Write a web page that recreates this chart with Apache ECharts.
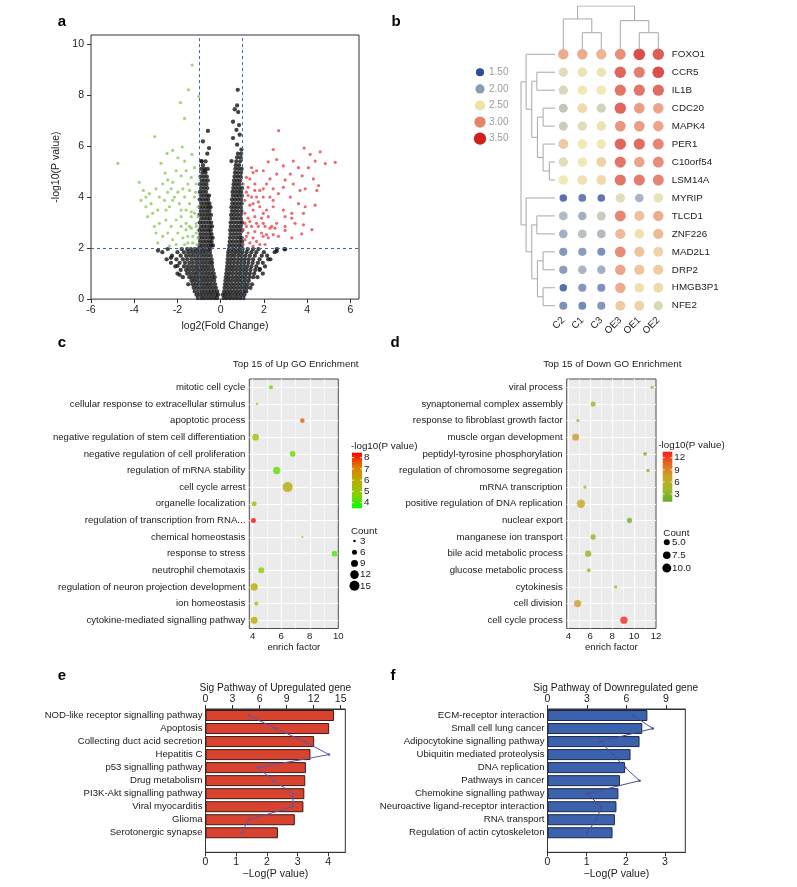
<!DOCTYPE html>
<html><head><meta charset="utf-8">
<script src="https://cdn.jsdelivr.net/npm/echarts@6/dist/echarts.min.js"></script>
<style>html,body{margin:0;padding:0;background:#fff}#c{position:absolute;left:0;top:0;width:797px;height:887px}#va{position:absolute;left:0;top:0;width:385px;height:337px;background:#fff;z-index:5}</style>
</head><body><div id="c"></div><div id="va"></div><script>
const FONT = '"Liberation Sans", Arial, Helvetica, sans-serif';

// ---------- a: volcano ----------
const volcanoGreen = [[-1.32,9.17],[-1.49,8.2],[-1.02,7.94],[-1.86,7.7],[-1.67,7.08],[-3.05,6.37],[-4.76,5.32],[-1.78,5.96],[-2.48,5.71],[-2.22,5.83],[-2.76,5.32],[-1.98,5.54],[-1.67,5.41],[-1.33,5.67],[-3.77,4.58],[-3.58,4.26],[-3.46,4.0],[-3.69,3.87],[-3.22,3.74],[-2.99,4.32],[-2.68,4.51],[-2.45,4.67],[-2.29,4.32],[-2.06,5.03],[-1.83,4.83],[-1.6,5.03],[-1.36,4.77],[-1.21,5.15],[-1.13,4.51],[-3.46,3.62],[-3.15,3.36],[-3.38,3.23],[-2.91,3.49],[-2.6,3.87],[-2.37,3.62],[-2.14,4.0],[-1.91,3.74],[-1.67,4.0],[-1.44,3.74],[-1.21,4.0],[-1.05,3.62],[-3.07,2.85],[-2.84,2.97],[-2.53,3.1],[-2.29,2.85],[-2.06,3.1],[-1.83,3.23],[-1.6,2.97],[-1.36,3.23],[-1.13,2.97],[-2.99,2.59],[-2.68,2.46],[-2.45,2.59],[-2.22,2.33],[-1.98,2.59],[-1.75,2.4],[-1.52,2.2],[-1.29,2.46],[-1.1,2.14],[-2.91,2.2],[-1.6,2.72],[-1.36,2.78],[-1.13,2.59],[-1.83,2.85],[-2.53,3.49],[-2.22,3.87],[-1.44,4.26],[-1.16,4.19],[-1.52,4.51],[-1.75,4.32],[-1.98,4.19],[-2.84,4.0],[-3.3,4.13],[-2.45,4.19],[-1.6,3.49],[-1.36,3.42],[-1.21,3.36],[-1.83,3.49],[-1.05,3.23],[-1.52,2.46],[-1.29,2.2],[-1.67,2.14],[-2.06,2.14],[-2.37,2.08],[-1.05,2.4],[-1.13,2.85],[-1.44,2.85],[-2.57,4.94],[-2.22,4.58]];
const volcanoRed = [[2.68,6.6],[3.86,5.92],[2.43,5.86],[4.6,5.77],[4.14,5.67],[5.3,5.36],[4.37,5.41],[3.36,5.41],[2.2,5.38],[2.59,5.47],[1.43,5.15],[1.5,4.96],[1.35,4.71],[1.19,4.77],[1.66,5.03],[1.97,5.03],[2.9,5.22],[3.6,5.15],[4.06,5.15],[3.22,4.9],[3.77,4.83],[2.59,4.9],[2.28,4.71],[4.29,4.71],[4.53,4.45],[4.45,4.26],[1.04,4.51],[1.27,4.38],[1.58,4.51],[1.81,4.26],[2.12,4.51],[2.43,4.32],[2.9,4.38],[3.36,4.51],[3.91,4.32],[3.67,4.26],[1.66,4.0],[1.97,4.0],[2.28,4.0],[2.43,3.87],[2.67,4.13],[3.22,4.0],[3.6,3.74],[4.37,3.68],[3.91,3.62],[1.12,3.87],[1.35,3.68],[1.5,3.49],[1.81,3.62],[2.12,3.49],[2.43,3.62],[2.9,3.49],[3.29,3.36],[3.83,3.36],[3.29,3.17],[2.98,3.23],[1.12,3.36],[1.27,3.17],[1.58,3.23],[1.89,3.17],[2.2,3.23],[2.59,2.97],[2.98,2.85],[3.44,2.97],[3.83,2.91],[4.22,2.72],[3.75,2.56],[3.29,2.4],[2.98,2.69],[1.12,2.97],[1.43,2.85],[1.74,2.85],[2.05,2.85],[2.36,2.85],[1.04,2.72],[1.27,2.59],[1.58,2.65],[1.89,2.59],[2.12,2.53],[2.43,2.53],[2.67,2.46],[1.12,2.33],[1.35,2.2],[1.66,2.26],[1.97,2.46],[2.2,2.4],[1.04,2.14],[1.5,2.08],[1.81,2.14],[2.05,2.14],[1.19,2.46],[1.5,2.4],[1.19,2.85],[1.43,4.0],[1.27,4.06],[1.58,4.26],[1.97,4.32],[1.19,4.19],[1.5,3.74],[1.74,3.81],[1.97,3.36],[1.66,2.97],[1.97,2.97],[1.35,3.04],[2.28,2.78],[2.51,2.78],[4.84,5.31],[2.98,4.67]];
// rows: [y, x1, x2, ...] read from the dense black V
const volcanoBlackRows = [
[0.04,-1.05,-0.9,-0.76,-0.6,-0.45,-0.3,-0.17,0.14,0.28,0.43,0.58,0.74,0.9,1.05],
[0.17,-1.12,-0.97,-0.82,-0.67,-0.52,-0.38,-0.22,-0.12,0.1,0.22,0.36,0.5,0.66,0.8,0.95,1.1],
[0.3,-1.2,-1.03,-0.88,-0.73,-0.58,-0.44,-0.3,-0.16,0.16,0.3,0.44,0.6,0.75,0.9,1.05,1.18],
[0.44,-1.25,-1.1,-0.95,-0.8,-0.65,-0.5,-0.36,-0.22,0.18,0.33,0.48,0.63,0.78,0.93,1.08,1.22,1.38],
[0.58,-1.5,-1.3,-1.15,-1.0,-0.85,-0.7,-0.56,-0.42,-0.26,0.2,0.34,0.49,0.64,0.8,0.95,1.1,1.25,1.45],
[0.72,-1.35,-1.2,-1.05,-0.9,-0.75,-0.6,-0.45,-0.3,0.22,0.37,0.52,0.68,0.83,0.98,1.13,1.3],
[0.86,-1.75,-1.45,-1.3,-1.15,-1.0,-0.85,-0.7,-0.55,-0.4,-0.28,0.24,0.38,0.54,0.7,0.85,1.0,1.15,1.32,1.5,1.7],
[1.0,-2.0,-1.55,-1.38,-1.22,-1.07,-0.92,-0.77,-0.62,-0.47,-0.32,0.26,0.4,0.56,0.72,0.88,1.03,1.18,1.35,1.55,1.95],
[1.14,-1.85,-1.6,-1.45,-1.28,-1.12,-0.97,-0.82,-0.67,-0.52,-0.36,0.28,0.43,0.58,0.74,0.9,1.05,1.2,1.38,1.6,1.8],
[1.28,-2.1,-1.7,-1.52,-1.35,-1.18,-1.02,-0.87,-0.72,-0.57,-0.4,0.3,0.45,0.6,0.76,0.92,1.07,1.23,1.42,1.65,2.05],
[1.42,-2.3,-1.9,-1.65,-1.45,-1.28,-1.1,-0.95,-0.8,-0.65,-0.5,-0.4,0.31,0.46,0.62,0.78,0.94,1.1,1.28,1.48,1.72,1.95],
[1.56,-2.5,-2.05,-1.75,-1.55,-1.35,-1.18,-1.02,-0.87,-0.72,-0.57,-0.42,0.33,0.48,0.63,0.8,0.96,1.12,1.3,1.5,1.8,2.3],
[1.7,-2.25,-1.85,-1.6,-1.42,-1.25,-1.08,-0.92,-0.77,-0.62,-0.46,0.34,0.5,0.65,0.82,0.98,1.15,1.35,1.58,1.9,2.15],
[1.84,-2.7,-2.0,-1.7,-1.5,-1.32,-1.15,-0.98,-0.82,-0.67,-0.5,0.35,0.52,0.68,0.84,1.0,1.2,1.42,1.65,2.0,2.5],
[1.96,-2.45,-1.8,-1.55,-1.38,-1.2,-1.05,-0.9,-0.75,-0.6,-0.48,0.38,0.54,0.7,0.86,1.02,1.25,1.5,1.75,2.6,2.95],
[2.1,-0.98,-0.85,-0.7,-0.56,-0.44,-0.36,0.4,0.55,0.7,0.85,0.98],
[2.25,-0.95,-0.8,-0.66,-0.52,-0.42,0.42,0.57,0.72,0.87,0.99],
[2.4,-0.99,-0.86,-0.72,-0.58,-0.45,-0.37,0.43,0.58,0.73,0.88,0.97],
[2.55,-0.94,-0.8,-0.66,-0.52,-0.42,0.45,0.6,0.75,0.9],
[2.7,-0.98,-0.84,-0.7,-0.56,-0.46,0.44,0.58,0.72,0.86,0.99],
[2.85,-0.92,-0.78,-0.64,-0.5,-0.4,0.47,0.62,0.77,0.92],
[3.0,-0.97,-0.83,-0.69,-0.55,-0.44,0.46,0.6,0.74,0.88,0.99],
[3.15,-0.9,-0.76,-0.62,-0.5,0.5,0.64,0.79,0.94],
[3.3,-0.98,-0.84,-0.7,-0.57,-0.45,0.48,0.62,0.77,0.92],
[3.45,-0.92,-0.78,-0.64,-0.52,0.52,0.66,0.8,0.96],
[3.6,-0.96,-0.82,-0.68,-0.56,-0.47,0.5,0.64,0.78,0.93],
[3.75,-0.9,-0.76,-0.62,-0.52,0.54,0.68,0.83,0.97],
[3.9,-0.97,-0.84,-0.7,-0.58,0.52,0.66,0.8,0.94],
[4.05,-0.92,-0.78,-0.64,-0.54,0.56,0.7,0.84,0.98],
[4.2,-0.96,-0.82,-0.68,0.55,0.69,0.83,0.95],
[4.35,-0.9,-0.76,-0.62,0.58,0.72,0.86,0.99],
[4.5,-0.95,-0.8,-0.66,0.6,0.74,0.88],
[4.65,-0.88,-0.74,-0.6,0.62,0.76,0.9],
[4.8,-0.93,-0.78,-0.64,0.64,0.78,0.92],
[4.95,-0.85,-0.7,0.66,0.8,0.95],
[5.1,-0.9,-0.75,-0.6,0.68,0.83,0.97],
[5.25,-0.82,0.7,0.85],
[5.4,-0.88,-0.7,0.72,0.9],
[5.55,0.76,0.92],
[5.7,-0.62,0.8,0.95]
];
const volcanoBlackSparse = [[-0.59,6.59],[-0.82,6.18],[-0.54,5.92],[-0.9,5.41],[-0.74,5.03],[0.79,8.2],[0.76,7.59],[0.65,7.44],[0.81,7.33],[0.57,6.95],[0.85,6.82],[0.73,6.63],[0.88,6.44],[0.57,6.31],[0.76,6.05],[0.96,5.86],[0.5,5.41],[2.59,1.88],[2.98,1.95],[2.2,1.56],[1.81,1.18],[-2.9,1.9],[-2.3,1.62],[-2.0,1.3],[-1.9,0.95]];
const volcanoCutoffsX = [-1, 1];
const volcanoCutoffY = 2;

// ---------- b: dot heatmap ----------
const heatGenes = ['FOXO1','CCR5','IL1B','CDC20','MAPK4','PER1','C10orf54','LSM14A','MYRIP','TLCD1','ZNF226','MAD2L1','DRP2','HMGB3P1','NFE2'];
const heatSamples = ['C2','C1','C3','OE3','OE1','OE2'];
const heatValues = [
[2.9,2.9,2.85,3.1,3.5,3.4],
[2.4,2.45,2.45,3.35,3.2,3.5],
[2.35,2.5,2.5,3.25,3.25,3.3],
[2.2,2.6,2.3,3.35,3.0,2.95],
[2.25,2.4,2.45,3.05,3.0,2.95],
[2.7,2.5,2.5,3.35,3.3,3.15],
[2.4,2.5,2.65,3.25,2.95,3.1],
[2.5,2.55,2.6,3.25,3.2,3.15],
[1.5,1.6,1.55,2.4,2.05,2.45],
[2.1,2.0,2.25,3.15,2.75,2.9],
[2.0,2.15,2.1,2.8,2.55,2.8],
[1.8,1.85,1.75,3.1,2.75,2.65],
[1.85,2.05,2.0,2.95,2.75,2.7],
[1.5,1.8,1.75,2.9,2.55,2.6],
[1.75,1.7,1.8,2.7,2.65,2.35]
];
// merges: [childA, childB, height]; leaves are 0..n-1, merged nodes n, n+1, ...
const rowMerges = [[6,7,1.0],[5,15,2.1],[3,4,2.1],[17,16,3.1],[1,2,3.2],[19,18,4.1],[0,20,5.1],[11,12,2.1],[13,14,2.1],[22,23,3.1],[9,10,3.2],[25,24,4.1],[8,26,5.1],[21,27,6.0]];
const colMerges = [[1,2,1.0],[0,6,1.8],[4,5,1.0],[3,8,1.7],[7,9,2.55]];
const heatLegendValues = [1.5,2.0,2.5,3.0,3.5];
const heatColors = ['#2a4d9e','#8b9cb5','#eee3a2','#e88466','#d0201e'];

// ---------- c: Up GO ----------
const upTerms = ['mitotic cell cycle','cellular response to extracellular stimulus','apoptotic process','negative regulation of stem cell differentiation','negative regulation of cell proliferation','regulation of mRNA stability','cell cycle arrest','organelle localization','regulation of transcription from RNA...','chemical homeostasis','response to stress','neutrophil chemotaxis','regulation of neuron projection development','ion homeostasis','cytokine-mediated signalling pathway'];
const upEnrich = [5.28,4.3,7.48,4.2,6.8,5.68,6.45,4.1,4.05,7.48,9.74,4.6,4.1,4.25,4.1];
const upLogP = [4.6,5.0,7.5,5.0,4.5,4.3,6.0,5.4,8.3,5.0,4.2,4.7,6.0,4.8,6.0];
const upCount = [4.7,2.8,5.5,8.6,7,9.6,15,6,6,2.5,7,7.5,9.6,4.7,9];
const upXTicks = [4,6,8,10];
const upColorTicks = [4,5,6,7,8];
const upCountTicks = [3,6,9,12,15];
const upColors = ['#00ff00','#8ccd00','#b9ab00','#e27a00','#ff0000'];

// ---------- d: Down GO ----------
const downTerms = ['viral process','synaptonemal complex assembly','response to fibroblast growth factor','muscle organ development','peptidyl-tyrosine phosphorylation','regulation of chromosome segregation','mRNA transcription','positive regulation of DNA replication','nuclear export','manganese ion transport','bile acid metabolic process','glucose metabolic process','cytokinesis','cell division','cell cycle process'];
const downEnrich = [11.64,6.26,4.88,4.67,11.0,11.27,5.51,5.15,9.58,6.26,5.81,5.87,8.32,4.85,9.07];
const downLogP = [4.0,3.5,5.0,8.0,2.5,2.8,5.0,7.0,2.0,3.2,3.5,3.5,5.0,7.5,13.0];
const downCount = [1.8,3.8,2,6.4,2.4,2.1,2,8.6,3.8,4.2,5.6,2.5,2,6.8,6.9];
const downXTicks = [4,6,8,10,12];
const downColorTicks = [3,6,9,12];
const downCountTicks = [5.0,7.5,10.0];
const downColors = ['#62ac2a','#a5b62c','#c9a526','#e86a1e','#f51e1e'];

// ---------- e / f: pathways ----------
const upPathways = ['NOD-like receptor signalling pathway','Apoptosis','Collecting duct acid secretion','Hepatitis C','p53 signalling pathway','Drug metabolism','PI3K-Akt signalling pathway','Viral myocarditis','Glioma','Serotonergic synapse'];
const upPathLogP = [4.19,4.03,3.54,3.42,3.27,3.25,3.22,3.19,2.91,2.36];
const upPathCount = [4.8,7.8,11.0,13.7,5.8,7.6,9.7,9.7,4.8,4.0];
const downPathways = ['ECM-receptor interaction','Small cell lung cancer','Adipocytokine signalling pathway','Ubiquitin mediated proteolysis','DNA replication','Pathways in cancer','Chemokine signalling pathway','Neuroactive ligand-receptor interaction','RNA transport','Regulation of actin cytoskeleton'];
const downPathLogP = [2.55,2.42,2.35,2.12,1.98,1.85,1.81,1.76,1.72,1.66];
const downPathCount = [6.5,8.0,4.0,5.0,5.9,7.0,3.0,4.1,3.7,3.0];

// ---------- helpers ----------
function blackPoints() {
  const out = [];
  volcanoBlackRows.forEach(r => { for (let i = 1; i < r.length; i++) out.push([r[i], r[0]]); });
  return out.concat(volcanoBlackSparse);
}
function dendro(merges, n, orient) {
  const pos = [], h = [], segs = [];
  for (let i = 0; i < n; i++) { pos[i] = i; h[i] = 0; }
  merges.forEach((m, k) => {
    const a = m[0], b = m[1], H = m[2], id = n + k;
    pos[id] = (pos[a] + pos[b]) / 2; h[id] = H;
    if (orient === 'row') segs.push([[h[a], pos[a]], [H, pos[a]], [H, pos[b]], [h[b], pos[b]]]);
    else segs.push([[pos[a], h[a]], [pos[a], H], [pos[b], H], [pos[b], h[b]]]);
  });
  return segs;
}
const heatSize = v => 7.5 + (v - 1.5) * 2.1;
const upSize = c => 3.5 * Math.sqrt(c) - 3.56;
const downSize = c => 3.24 * Math.sqrt(c) - 1.24;

const txt = '#1a1a1a';
const lbl = (extra) => Object.assign({color: txt, fontSize: 9.6, fontFamily: FONT}, extra || {});
const hidden = () => ({show: false});
const darkLine = () => ({show: true, onZero: false, lineStyle: {color: '#333'}});
const darkTick = (len) => ({show: true, length: len, lineStyle: {color: '#333'}});

function gridLines(xMajor, xMinor, nCats) {
  const d = [];
  xMinor.forEach(v => d.push({xAxis: v, lineStyle: {color: '#fff', width: 0.6, type: 'solid'}}));
  xMajor.forEach(v => d.push({xAxis: v, lineStyle: {color: '#fff', width: 1.2, type: 'solid'}}));
  for (let i = 0; i < nCats; i++) d.push({yAxis: i, lineStyle: {color: '#fff', width: 1.2, type: 'solid'}});
  return d;
}
function text(G, x, y, s, o) {
  o = o || {};
  G.push({type: 'text', x: x, y: y, silent: true, z: 10, style: {text: s, fill: o.fill || txt,
    fontSize: o.size || 9.8, fontWeight: o.weight || 'normal', fontFamily: FONT,
    align: o.align || 'center', verticalAlign: 'middle'}});
}

// ================= panel a: its own chart (drawn above the main canvas) =================
const volcanoChart = echarts.init(document.getElementById('va'), null, {renderer: 'canvas'});
const volcanoGraphic = [];
text(volcanoGraphic, 62, 22, 'a', {size: 15, weight: 'bold', fill: '#000'});
volcanoChart.setOption({
  animation: false,
  backgroundColor: '#fff',
  textStyle: {fontFamily: FONT},
  grid: [{left: 91, top: 35, width: 268, height: 269, show: true, borderColor: '#333', borderWidth: 1, backgroundColor: 'transparent'}],
  xAxis: [{gridIndex: 0, type: 'value', min: -6, max: 6.4, interval: 2, splitLine: hidden(), minorSplitLine: hidden(),
     axisLine: {show: false, onZero: false}, axisTick: darkTick(4),
     axisLabel: lbl({fontSize: 10.5, margin: 6, showMaxLabel: false, color: '#222'}),
     name: 'log2(Fold Change)', nameLocation: 'middle', nameGap: 17, nameTextStyle: lbl({fontSize: 10.5, color: '#222'})}],
  yAxis: [{gridIndex: 0, type: 'value', min: 0, max: 10.35, interval: 2, splitLine: hidden(), minorSplitLine: hidden(),
     axisLine: {show: false, onZero: false}, axisTick: darkTick(4),
     axisLabel: lbl({fontSize: 10.5, margin: 7, showMaxLabel: false, color: '#222'}),
     name: '-log10(P value)', nameLocation: 'middle', nameGap: 17, nameTextStyle: lbl({fontSize: 10.5, color: '#222'})}],
  series: [
    {type: 'scatter', xAxisIndex: 0, yAxisIndex: 0, data: blackPoints(), symbolSize: 4.3, itemStyle: {color: '#141414'}, silent: true},
    {type: 'scatter', xAxisIndex: 0, yAxisIndex: 0, data: volcanoGreen, symbolSize: 3.2, itemStyle: {color: '#8dc95e'}, silent: true},
    {type: 'scatter', xAxisIndex: 0, yAxisIndex: 0, data: volcanoRed, symbolSize: 3.2, itemStyle: {color: '#e3474f'}, silent: true},
    {type: 'scatter', xAxisIndex: 0, yAxisIndex: 0, data: [], silent: true,
     markLine: {silent: true, z: 6, symbol: ['none', 'none'], label: {show: false},
       lineStyle: {color: '#3f6b96', width: 1, type: [3, 3]},
       data: volcanoCutoffsX.map(v => ({xAxis: v})).concat([{yAxis: volcanoCutoffY}])}}
  ],
  graphic: volcanoGraphic
});

// ================= panels b–f =================
const chart = echarts.init(document.getElementById('c'), null, {renderer: 'canvas'});

const series = [
  {id: 'heat', type: 'scatter', xAxisIndex: 1, yAxisIndex: 1, silent: true,
   data: (function () { const d = []; heatValues.forEach((row, r) => row.forEach((v, c) => d.push([c, r, v]))); return d; })(),
   symbolSize: v => heatSize(v[2])},
  {type: 'line', xAxisIndex: 4, yAxisIndex: 4, z: 1, data: [[4, 0]], showSymbol: false, lineStyle: {opacity: 0}, silent: true,
   markLine: {z: 1, silent: true, symbol: ['none', 'none'], label: {show: false}, data: gridLines([4, 6, 8], [5, 7, 9], upTerms.length)}},
  {id: 'upGO', type: 'scatter', xAxisIndex: 4, yAxisIndex: 4, z: 6, silent: true,
   data: upTerms.map((t, i) => [upEnrich[i], i, upLogP[i], upCount[i]]), symbolSize: v => upSize(v[3])},
  {type: 'line', xAxisIndex: 5, yAxisIndex: 5, z: 1, data: [[4, 0]], showSymbol: false, lineStyle: {opacity: 0}, silent: true,
   markLine: {z: 1, silent: true, symbol: ['none', 'none'], label: {show: false}, data: gridLines([4, 6, 8, 10], [5, 7, 9, 11], downTerms.length)}},
  {id: 'downGO', type: 'scatter', xAxisIndex: 5, yAxisIndex: 5, z: 6, silent: true,
   data: downTerms.map((t, i) => [downEnrich[i], i, downLogP[i], downCount[i]]), symbolSize: v => downSize(v[3])},
  {type: 'bar', xAxisIndex: 6, yAxisIndex: 6, data: upPathLogP, barWidth: 11, silent: true,
   itemStyle: {color: '#d8432f', borderColor: '#3d1a14', borderWidth: 1}},
  {type: 'line', xAxisIndex: 7, yAxisIndex: 6, data: upPathCount, z: 5, silent: true, symbol: 'circle', symbolSize: 2.5,
   lineStyle: {color: '#5d57a8', width: 1}, itemStyle: {color: '#5d57a8'}},
  {type: 'bar', xAxisIndex: 8, yAxisIndex: 7, data: downPathLogP, barWidth: 11, silent: true,
   itemStyle: {color: '#3c62ad', borderColor: '#1a2848', borderWidth: 1}},
  {type: 'line', xAxisIndex: 9, yAxisIndex: 7, data: downPathCount, z: 5, silent: true, symbol: 'circle', symbolSize: 2.5,
   lineStyle: {color: '#4a4c96', width: 1}, itemStyle: {color: '#4a4c96'}}
];
dendro(rowMerges, heatGenes.length, 'row').forEach(seg => series.push({
  type: 'line', xAxisIndex: 2, yAxisIndex: 2, data: seg, showSymbol: false, silent: true,
  lineStyle: {color: '#a8a8a8', width: 1}}));
dendro(colMerges, heatSamples.length, 'col').forEach(seg => series.push({
  type: 'line', xAxisIndex: 3, yAxisIndex: 3, data: seg, showSymbol: false, silent: true,
  lineStyle: {color: '#a8a8a8', width: 1}}));
const sIdx = id => series.findIndex(s => s.id === id);

const option = {
  animation: false,
  backgroundColor: '#fff',
  textStyle: {fontFamily: FONT},
  grid: [
    {left: 91, top: 35, width: 268, height: 269, show: false},
    {left: 553.8, top: 45.3, width: 114, height: 269.4},
    {left: 521, top: 45.3, width: 34, height: 269.4},
    {left: 553.8, top: 6, width: 114, height: 44},
    {left: 249.3, top: 379, width: 89, height: 249.5, show: true, backgroundColor: '#ebebeb', borderColor: '#4d4d4d', borderWidth: 1},
    {left: 566.7, top: 379, width: 89.3, height: 249.5, show: true, backgroundColor: '#ebebeb', borderColor: '#4d4d4d', borderWidth: 1},
    {left: 205.5, top: 709, width: 139.8, height: 143.3, show: true, borderColor: '#333', borderWidth: 1, backgroundColor: 'transparent'},
    {left: 547.5, top: 709, width: 137.8, height: 143.3, show: true, borderColor: '#333', borderWidth: 1, backgroundColor: 'transparent'}
  ],
  xAxis: [
    {gridIndex: 0, type: 'value', min: 0, max: 1, show: false},
    {gridIndex: 1, type: 'category', data: heatSamples, axisLine: hidden(), axisTick: hidden(), splitLine: hidden(),
     axisLabel: lbl({rotate: 45, margin: 4, fontSize: 9.8, color: '#222'})},
    {gridIndex: 2, type: 'value', min: 0, max: 6.0, inverse: true, show: false},
    {gridIndex: 3, type: 'value', min: -0.5, max: 5.5, show: false},
    {gridIndex: 4, type: 'value', min: 3.76, max: 10, splitLine: hidden(), axisLine: {show: false, onZero: false},
     axisTick: {customValues: upXTicks, length: 3, lineStyle: {color: '#333'}},
     axisLabel: lbl({customValues: upXTicks, margin: 3, color: '#222'}),
     name: 'enrich factor', nameLocation: 'middle', nameGap: 14, nameTextStyle: lbl()},
    {gridIndex: 5, type: 'value', min: 3.85, max: 12, splitLine: hidden(), axisLine: {show: false, onZero: false},
     axisTick: {customValues: downXTicks, length: 3, lineStyle: {color: '#333'}},
     axisLabel: lbl({customValues: downXTicks, margin: 3, color: '#222'}),
     name: 'enrich factor', nameLocation: 'middle', nameGap: 14, nameTextStyle: lbl()},
    {gridIndex: 6, type: 'value', position: 'bottom', min: 0, max: 4.555, interval: 1, splitLine: hidden(),
     axisLine: darkLine(), axisTick: darkTick(4),
     axisLabel: lbl({fontSize: 10.5, margin: 4, showMaxLabel: false, color: '#222'}),
     name: '\u2212Log(P value)', nameLocation: 'middle', nameGap: 16, nameTextStyle: lbl({fontSize: 10.5, color: '#222'})},
    {gridIndex: 6, type: 'value', position: 'top', min: 0, max: 15.51, interval: 3, splitLine: hidden(),
     axisLine: darkLine(), axisTick: darkTick(4),
     axisLabel: lbl({fontSize: 10.5, margin: 4, showMaxLabel: false, color: '#222'})},
    {gridIndex: 7, type: 'value', position: 'bottom', min: 0, max: 3.518, interval: 1, splitLine: hidden(),
     axisLine: darkLine(), axisTick: darkTick(4),
     axisLabel: lbl({fontSize: 10.5, margin: 4, showMaxLabel: false, color: '#222'}),
     name: '\u2212Log(P value)', nameLocation: 'middle', nameGap: 16, nameTextStyle: lbl({fontSize: 10.5, color: '#222'})},
    {gridIndex: 7, type: 'value', position: 'top', min: 0, max: 10.47, interval: 3, splitLine: hidden(),
     axisLine: darkLine(), axisTick: darkTick(4),
     axisLabel: lbl({fontSize: 10.5, margin: 4, showMaxLabel: false, color: '#222'})}
  ],
  yAxis: [
    {gridIndex: 0, type: 'value', min: 0, max: 1, show: false},
    {gridIndex: 1, type: 'category', data: heatGenes, inverse: true, position: 'right', axisLine: hidden(), axisTick: hidden(), splitLine: hidden(),
     axisLabel: lbl({margin: 4, fontSize: 9.8, color: '#222', interval: 0})},
    {gridIndex: 2, type: 'value', min: -0.5, max: 14.5, inverse: true, show: false},
    {gridIndex: 3, type: 'value', min: 0, max: 2.55, show: false},
    {gridIndex: 4, type: 'category', data: upTerms, inverse: true, axisLine: {show: false, onZero: false}, splitLine: hidden(),
     axisTick: {alignWithLabel: true, length: 3, lineStyle: {color: '#333'}},
     axisLabel: lbl({interval: 0, margin: 4})},
    {gridIndex: 5, type: 'category', data: downTerms, inverse: true, axisLine: {show: false, onZero: false}, splitLine: hidden(),
     axisTick: {alignWithLabel: true, length: 3, lineStyle: {color: '#333'}},
     axisLabel: lbl({interval: 0, margin: 4})},
    {gridIndex: 6, type: 'category', data: upPathways.concat(['']), inverse: true, splitLine: hidden(),
     axisLine: darkLine(),
     axisTick: {alignWithLabel: true, length: 3, interval: (i, v) => v !== '', lineStyle: {color: '#333'}},
     axisLabel: lbl({interval: 0, margin: 3})},
    {gridIndex: 7, type: 'category', data: downPathways.concat(['']), inverse: true, splitLine: hidden(),
     axisLine: darkLine(),
     axisTick: {alignWithLabel: true, length: 3, interval: (i, v) => v !== '', lineStyle: {color: '#333'}},
     axisLabel: lbl({interval: 0, margin: 3})}
  ],
  visualMap: [
    {type: 'continuous', show: false, seriesIndex: sIdx('heat'), dimension: 2, min: 1.5, max: 3.5, inRange: {color: heatColors}},
    {type: 'continuous', show: false, seriesIndex: sIdx('upGO'), dimension: 2, min: 3.5, max: 8.44, inRange: {color: upColors}},
    {type: 'continuous', show: false, seriesIndex: sIdx('downGO'), dimension: 2, min: 1.1, max: 13.5, inRange: {color: downColors}}
  ],
  series: series,
  graphic: []
};

// ---------- annotations ----------
const G = option.graphic;
[['b', 396, 22], ['c', 62, 343], ['d', 395, 343], ['e', 62, 676], ['f', 393, 676]]
  .forEach(p => text(G, p[1], p[2], p[0], {size: 15, weight: 'bold', fill: '#000'}));
text(G, 295.7, 364, 'Top 15 of Up GO Enrichment');
text(G, 612.3, 364, 'Top 15 of Down GO Enrichment');
text(G, 275.3, 688, 'Sig Pathway of Upregulated gene', {size: 10.2});
text(G, 615.7, 688, 'Sig Pathway of Downregulated gene', {size: 10.2});

// b legend
heatLegendValues.forEach((v, i) => {
  const y = 72.3 + i * 16.6;
  const r = heatSize(v) / 2 + 0.3;
  G.push({type: 'circle', silent: true, shape: {cx: 480, cy: y, r: r}, style: {fill: heatColors[i]}});
  text(G, 489, y, v.toFixed(2), {align: 'left', fill: '#9a9a9a', size: 10});
});

// colour bars and count legends for c / d
function colorLegend(x, title, barX, barY, barW, barH, vmin, vmax, ticks, colors) {
  text(G, x, barY - 6.5, title, {align: 'left'});
  G.push({type: 'rect', silent: true, shape: {x: barX, y: barY, width: barW, height: barH},
    style: {fill: new echarts.graphic.LinearGradient(0, 1, 0, 0, colors.map((c, i) => ({offset: i / (colors.length - 1), color: c})))}});
  ticks.forEach(t => {
    const y = barY + (vmax - t) / (vmax - vmin) * barH;
    G.push({type: 'line', silent: true, shape: {x1: barX, y1: y, x2: barX + 2, y2: y}, style: {stroke: '#fff', lineWidth: 0.8}});
    G.push({type: 'line', silent: true, shape: {x1: barX + barW - 2, y1: y, x2: barX + barW, y2: y}, style: {stroke: '#fff', lineWidth: 0.8}});
    text(G, barX + barW + 2, y, String(t), {align: 'left'});
  });
}
colorLegend(351, '-log10(P value)', 352, 452.7, 10, 55.6, 3.5, 8.44, upColorTicks, upColors);
colorLegend(658.3, '-log10(P value)', 662.7, 451.7, 9.6, 50, 1.1, 13.5, downColorTicks, downColors);

function countLegend(x, y0, step, ticks, sizeFn, labelX, fmt) {
  text(G, x, y0 - 9.5, 'Count', {align: 'left'});
  ticks.forEach((t, i) => {
    const cy = y0 + i * step;
    G.push({type: 'circle', silent: true, shape: {cx: x + 3.5, cy: cy, r: sizeFn(t) / 2}, style: {fill: '#000'}});
    text(G, labelX, cy, fmt(t), {align: 'left'});
  });
}
countLegend(351, 541, 11.2, upCountTicks, upSize, 360, t => String(t));
countLegend(663.3, 542.3, 12.9, downCountTicks, downSize, 672, t => t.toFixed(1));

chart.setOption(option);
</script></body></html>
